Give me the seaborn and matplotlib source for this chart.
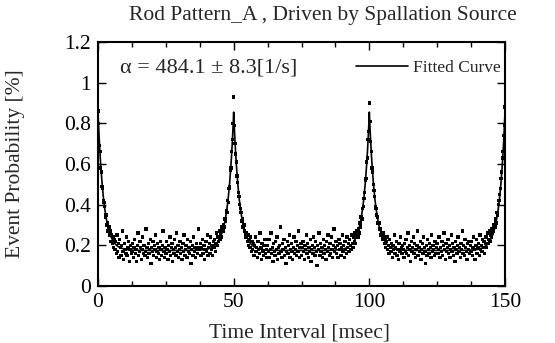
import numpy as np
import pandas as pd
import matplotlib
matplotlib.use("Agg")
import matplotlib.pyplot as plt
from matplotlib.ticker import MultipleLocator, FixedLocator, FixedFormatter
import seaborn as sns

# ---------------- data ----------------
bin_width_ms = 0.25
prob = [
    # 0 - 12.25
    0.86, 0.80, 0.69, 0.66, 0.58, 0.56, 0.49, 0.48, 0.42, 0.41, 0.39, 0.34, 0.35, 0.30, 0.31, 0.27, 0.29, 0.25, 0.27, 0.22,
    0.25, 0.21, 0.24, 0.19, 0.23, 0.18, 0.22, 0.16, 0.25, 0.17, 0.21, 0.14, 0.23, 0.19, 0.15, 0.20, 0.27, 0.17, 0.13, 0.21,
    0.18, 0.16, 0.24, 0.15, 0.19, 0.22, 0.12, 0.18, 0.20, 0.16,
    # 12.5 - 24.75
    0.17, 0.21, 0.14, 0.19, 0.23, 0.16, 0.18, 0.12, 0.20, 0.26, 0.15, 0.17, 0.22, 0.19, 0.13, 0.18, 0.24, 0.16, 0.20, 0.15,
    0.17, 0.28, 0.19, 0.14, 0.21, 0.16, 0.18, 0.23, 0.11, 0.19, 0.17, 0.22, 0.15, 0.20, 0.18, 0.25, 0.14, 0.17, 0.21, 0.16,
    0.19, 0.13, 0.22, 0.18, 0.15, 0.20, 0.27, 0.17, 0.14, 0.19,
    # 25 - 37.25
    0.16, 0.22, 0.18, 0.13, 0.20, 0.17, 0.24, 0.15, 0.19, 0.21, 0.12, 0.18, 0.16, 0.23, 0.19, 0.15, 0.26, 0.17, 0.20, 0.14,
    0.18, 0.22, 0.16, 0.19, 0.13, 0.21, 0.17, 0.25, 0.15, 0.18, 0.20, 0.14, 0.23, 0.17, 0.19, 0.16, 0.22, 0.11, 0.18, 0.20,
    0.15, 0.24, 0.17, 0.19, 0.14, 0.21, 0.18, 0.16, 0.28, 0.19,
    # 37.5 - 49.75
    0.18, 0.21, 0.15, 0.19, 0.23, 0.16, 0.20, 0.13, 0.18, 0.22, 0.17, 0.25, 0.15, 0.19, 0.21, 0.16, 0.24, 0.18, 0.20, 0.15,
    0.22, 0.19, 0.23, 0.17, 0.21, 0.26, 0.20, 0.24, 0.22, 0.27, 0.23, 0.26, 0.24, 0.29, 0.27, 0.30, 0.29, 0.33, 0.32, 0.37,
    0.36, 0.42, 0.41, 0.48, 0.49, 0.57, 0.58, 0.66, 0.72, 0.80,
    # 50 - 62.25
    0.93, 0.79, 0.70, 0.65, 0.61, 0.54, 0.51, 0.46, 0.44, 0.40, 0.38, 0.36, 0.32, 0.33, 0.29, 0.30, 0.27, 0.26, 0.24, 0.26,
    0.22, 0.25, 0.20, 0.23, 0.19, 0.24, 0.17, 0.22, 0.18, 0.21, 0.15, 0.20, 0.24, 0.17, 0.19, 0.14, 0.22, 0.18, 0.16, 0.26,
    0.19, 0.13, 0.21, 0.17, 0.15, 0.20, 0.23, 0.16, 0.18, 0.14,
    # 62.5 - 74.75
    0.20, 0.17, 0.23, 0.14, 0.18, 0.26, 0.16, 0.19, 0.12, 0.21, 0.17, 0.15, 0.22, 0.18, 0.24, 0.13, 0.19, 0.16, 0.20, 0.29,
    0.17, 0.14, 0.21, 0.18, 0.23, 0.15, 0.19, 0.11, 0.17, 0.22, 0.16, 0.20, 0.25, 0.14, 0.18, 0.21, 0.17, 0.13, 0.19, 0.24,
    0.16, 0.18, 0.22, 0.15, 0.20, 0.17, 0.27, 0.14, 0.19, 0.21,
    # 75 - 87.25
    0.15, 0.19, 0.22, 0.17, 0.13, 0.20, 0.18, 0.25, 0.16, 0.21, 0.14, 0.19, 0.17, 0.23, 0.12, 0.18, 0.20, 0.16, 0.24, 0.19,
    0.15, 0.22, 0.17, 0.10, 0.20, 0.18, 0.26, 0.15, 0.21, 0.17, 0.19, 0.14, 0.23, 0.16, 0.20, 0.18, 0.13, 0.22, 0.17, 0.25,
    0.19, 0.15, 0.21, 0.16, 0.24, 0.18, 0.14, 0.20, 0.28, 0.17,
    # 87.5 - 99.75
    0.19, 0.22, 0.16, 0.20, 0.14, 0.23, 0.18, 0.21, 0.15, 0.19, 0.25, 0.17, 0.20, 0.14, 0.22, 0.18, 0.16, 0.24, 0.19, 0.21,
    0.17, 0.23, 0.20, 0.18, 0.25, 0.21, 0.19, 0.24, 0.22, 0.26, 0.21, 0.25, 0.27, 0.24, 0.28, 0.26, 0.31, 0.29, 0.34, 0.33,
    0.38, 0.39, 0.43, 0.46, 0.52, 0.53, 0.61, 0.63, 0.72, 0.76,
    # 100 - 112.25
    0.90, 0.81, 0.71, 0.66, 0.58, 0.56, 0.50, 0.47, 0.44, 0.39, 0.38, 0.35, 0.34, 0.31, 0.31, 0.28, 0.28, 0.25, 0.26, 0.23,
    0.24, 0.26, 0.21, 0.23, 0.19, 0.22, 0.24, 0.18, 0.20, 0.16, 0.23, 0.19, 0.17, 0.21, 0.14, 0.20, 0.18, 0.25, 0.16, 0.19,
    0.22, 0.15, 0.18, 0.13, 0.21, 0.17, 0.24, 0.19, 0.16, 0.20,
    # 112.5 - 124.75
    0.18, 0.14, 0.21, 0.17, 0.23, 0.16, 0.19, 0.26, 0.15, 0.20, 0.18, 0.12, 0.22, 0.17, 0.19, 0.24, 0.16, 0.21, 0.14, 0.18,
    0.20, 0.27, 0.15, 0.19, 0.17, 0.22, 0.13, 0.18, 0.21, 0.16, 0.24, 0.19, 0.17, 0.11, 0.20, 0.15, 0.23, 0.18, 0.16, 0.21,
    0.19, 0.14, 0.25, 0.17, 0.20, 0.18, 0.15, 0.22, 0.16, 0.19,
    # 125 - 137.25
    0.21, 0.16, 0.18, 0.24, 0.14, 0.19, 0.17, 0.22, 0.15, 0.20, 0.26, 0.18, 0.13, 0.21, 0.17, 0.19, 0.23, 0.16, 0.20, 0.14,
    0.18, 0.25, 0.17, 0.21, 0.15, 0.19, 0.12, 0.22, 0.18, 0.16, 0.20, 0.24, 0.17, 0.19, 0.14, 0.21, 0.18, 0.27, 0.16, 0.20,
    0.15, 0.23, 0.19, 0.17, 0.13, 0.21, 0.18, 0.22, 0.16, 0.20,
    # 137.5 - 150
    0.17, 0.22, 0.15, 0.19, 0.24, 0.18, 0.13, 0.20, 0.23, 0.16, 0.19, 0.21, 0.15, 0.25, 0.18, 0.20, 0.17, 0.23, 0.19, 0.22,
    0.16, 0.21, 0.24, 0.19, 0.26, 0.21, 0.23, 0.27, 0.22, 0.25, 0.24, 0.28, 0.26, 0.27, 0.30, 0.29, 0.33, 0.31, 0.36, 0.35,
    0.40, 0.42, 0.45, 0.48, 0.53, 0.56, 0.63, 0.66, 0.74, 0.79,
    0.88,
]
time_ms = np.arange(len(prob)) * bin_width_ms

fit_t = [0, 0.25, 0.5, 0.75, 1, 1.5, 2, 2.5, 3, 3.5, 4, 5, 6, 7, 8, 10, 13, 17, 25,
         33, 37, 40, 42, 43, 44, 45, 46, 46.5, 47, 47.5, 48, 48.5, 49, 49.25, 49.5, 49.75,
         50, 50.25, 50.5, 50.75, 51, 51.5, 52, 52.5, 53, 53.5, 54, 55, 56, 57, 58, 60, 63, 67, 75,
         83, 87, 90, 92, 93, 94, 95, 96, 96.5, 97, 97.5, 98, 98.5, 99, 99.25, 99.5, 99.75,
         100, 100.25, 100.5, 100.75, 101, 101.5, 102, 102.5, 103, 103.5, 104, 105, 106, 107, 108, 110, 113, 117, 125,
         133, 137, 140, 142, 143, 144, 145, 146, 146.5, 147, 147.5, 148, 148.5, 149, 149.25, 149.5, 149.75, 150]
fit_y = [0.855, 0.777, 0.709, 0.648, 0.595, 0.505, 0.433, 0.378, 0.335, 0.300, 0.274, 0.236, 0.212, 0.198, 0.189, 0.180, 0.176, 0.175, 0.175,
         0.175, 0.176, 0.180, 0.189, 0.198, 0.212, 0.236, 0.274, 0.300, 0.335, 0.378, 0.433, 0.505, 0.595, 0.648, 0.709, 0.777,
         0.855, 0.777, 0.709, 0.648, 0.595, 0.505, 0.433, 0.378, 0.335, 0.300, 0.274, 0.236, 0.212, 0.198, 0.189, 0.180, 0.176, 0.175, 0.175,
         0.175, 0.176, 0.180, 0.189, 0.198, 0.212, 0.236, 0.274, 0.300, 0.335, 0.378, 0.433, 0.505, 0.595, 0.648, 0.709, 0.777,
         0.855, 0.777, 0.709, 0.648, 0.595, 0.505, 0.433, 0.378, 0.335, 0.300, 0.274, 0.236, 0.212, 0.198, 0.189, 0.180, 0.176, 0.175, 0.175,
         0.175, 0.176, 0.180, 0.189, 0.198, 0.212, 0.236, 0.274, 0.300, 0.335, 0.378, 0.433, 0.505, 0.595, 0.648, 0.709, 0.777, 0.855]

x_ticks = [0, 50, 100, 150]
x_tick_labels = ["0", "50", "100", "150"]
y_ticks = [0, 0.2, 0.4, 0.6, 0.8, 1.0, 1.2]
y_tick_labels = ["0", "0.2", "0.4", "0.6", "0.8", "1", "1.2"]

title = "Rod Pattern_A , Driven by Spallation Source"
x_label = "Time Interval [msec]"
y_label = "Event Probability [%]"
alpha_text = "\u03b1 = 484.1 \u00b1 8.3[1/s]"
legend_label = "Fitted Curve"

# ---------------- style ----------------
sns.set_theme(style="ticks")
plt.rcParams["font.family"] = ["Liberation Serif", "DejaVu Serif"]

fig = plt.figure(figsize=(5.55, 3.43), dpi=100)
ax = fig.add_axes([0.1766, 0.1662, 0.7333, 0.7114])

data_df = pd.DataFrame({"t": time_ms, "p": prob})
fit_df = pd.DataFrame({"t": fit_t, "p": fit_y})

sns.scatterplot(data=data_df, x="t", y="p", ax=ax, marker="s", s=6,
                color="black", edgecolor="none", linewidth=0, legend=False)
sns.lineplot(data=fit_df, x="t", y="p", ax=ax, color="black", linewidth=1.2,
             label=legend_label, sort=False)

ax.set_xlim(0, 150)
ax.set_ylim(0, 1.2)
ax.xaxis.set_major_locator(FixedLocator(x_ticks))
ax.xaxis.set_major_formatter(FixedFormatter(x_tick_labels))
ax.xaxis.set_minor_locator(MultipleLocator(12.5))
ax.yaxis.set_major_locator(FixedLocator(y_ticks))
ax.yaxis.set_major_formatter(FixedFormatter(y_tick_labels))

ax.tick_params(which="both", direction="in", top=True, right=True,
               labelsize=15.5, colors="black", width=1.0)
ax.tick_params(which="major", length=6, pad=5)
ax.tick_params(which="minor", length=3.5)
for sp in ax.spines.values():
    sp.set_linewidth(1.5)
    sp.set_color("black")

ax.set_xlabel(x_label, fontsize=15.5)
ax.set_ylabel(y_label, fontsize=15.5)
ax.xaxis.set_label_coords(0.496, -0.155)
ax.yaxis.set_label_coords(-0.18, 0.5)
fig.text(0.582, 0.956, title, fontsize=15.5, ha="center", va="center")

ax.text(0.054, 0.893, alpha_text, transform=ax.transAxes, fontsize=16,
        ha="left", va="center")
leg = ax.legend(loc="center right", bbox_to_anchor=(0.99, 0.893), frameon=False,
                fontsize=12.5, handlelength=3.0, handletextpad=0.3, borderpad=0,
                borderaxespad=0)

fig.savefig("out.png", dpi=100)
